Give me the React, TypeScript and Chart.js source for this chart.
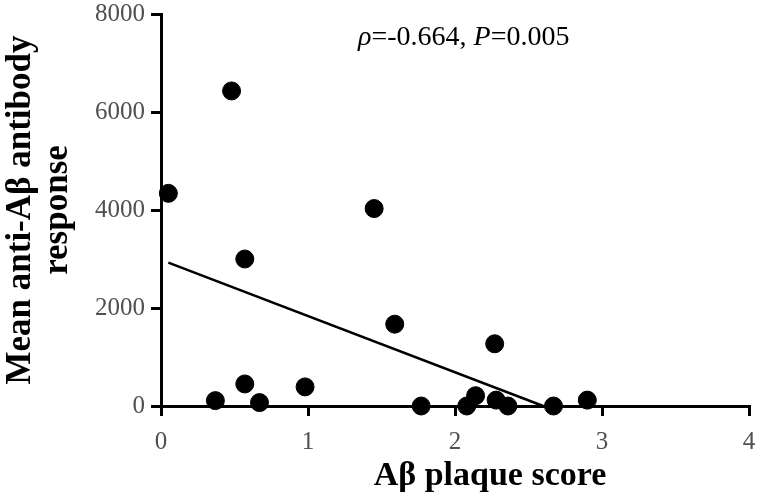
import React, { useEffect, useRef } from "react";
import { Chart, registerables } from "chart.js";

Chart.register(...registerables);

// Data
const plaqueScores = [0.05, 0.48, 1.45, 0.57, 0.57, 0.37, 0.67, 0.98, 1.59, 2.27, 1.77, 2.08, 2.14, 2.28, 2.36, 2.67, 2.9];
const antibodyResponse = [4340, 6430, 4030, 3000, 450, 110, 70, 390, 1670, 1270, 0, 0, 210, 120, 0, 0, 120];
const fitX = [0.05, 2.6];
const fitY = [2925, 0];
const xTickValues = [0, 1, 2, 3, 4];
const yTickValues = [0, 2000, 4000, 6000, 8000];
const xTitle = "Aβ plaque score";
const yTitle = ["Mean anti-Aβ antibody", "response"];
const statsSegments = [
  { text: "ρ", italic: true },
  { text: "=-0.664, ", italic: false },
  { text: "P", italic: true },
  { text: "=0.005", italic: false },
];
const statsAt = { x: 1.34, y: 7370 };

const SERIF = "'Liberation Serif', 'Times New Roman', serif";

const textPlugin = {
  id: "textPlugin",
  afterDraw(chart: any) {
    const ctx = chart.ctx;
    const xs = chart.scales.x;
    const ys = chart.scales.y;
    ctx.save();
    // stats annotation
    let px = xs.getPixelForValue(statsAt.x);
    const py = ys.getPixelForValue(statsAt.y);
    ctx.fillStyle = "#000";
    ctx.textBaseline = "alphabetic";
    ctx.textAlign = "left";
    for (const seg of statsSegments) {
      ctx.font = `${seg.italic ? "italic " : ""}28px ${SERIF}`;
      ctx.fillText(seg.text, px, py);
      px += ctx.measureText(seg.text).width;
    }
    // x axis title
    ctx.font = `bold 34px ${SERIF}`;
    ctx.textAlign = "center";
    ctx.fillText(xTitle, (xs.left + xs.right) / 2 + 35, 485);
    ctx.restore();
  },
};

export default function App() {
  const ref = useRef<HTMLCanvasElement | null>(null);
  useEffect(() => {
    document.body.style.margin = "0";
    const canvas = ref.current!;
    const chart = new Chart(canvas, {
      type: "scatter",
      data: {
        datasets: [
          {
            label: "Samples",
            data: plaqueScores.map((x, i) => ({ x, y: antibodyResponse[i] })),
            backgroundColor: "#000",
            borderColor: "#000",
            pointRadius: 9,
            pointHoverRadius: 9,
            clip: false as any,
          },
          {
            type: "line" as any,
            label: "Fit",
            data: fitX.map((x, i) => ({ x, y: fitY[i] })),
            borderColor: "#000",
            borderWidth: 2.5,
            pointRadius: 0,
            showLine: true,
            fill: false,
            clip: false as any,
          } as any,
        ],
      },
      options: {
        responsive: false,
        animation: false,
        events: [],
        layout: { padding: { left: 0, top: 14, right: 11, bottom: 0 } },
        plugins: { legend: { display: false }, tooltip: { enabled: false } },
        scales: {
          x: {
            type: "linear",
            min: 0,
            max: 4,
            afterBuildTicks: (s: any) => {
              s.ticks = xTickValues.map((v) => ({ value: v }));
            },
            afterFit: (s: any) => {
              s.height = 90;
              s.paddingLeft = 0;
              s.paddingRight = 0;
            },
            ticks: {
              color: "#505050",
              font: { family: SERIF, size: 25 },
              padding: 11,
              callback: (v: any) => String(v),
            },
            grid: {
              display: true,
              drawOnChartArea: false,
              drawTicks: true,
              tickLength: 10,
              color: "#000",
              lineWidth: 3,
            },
            border: { display: true, color: "#000", width: 3 },
          },
          y: {
            type: "linear",
            min: 0,
            max: 8000,
            afterBuildTicks: (s: any) => {
              s.ticks = yTickValues.map((v) => ({ value: v }));
            },
            afterFit: (s: any) => {
              s.width = 161;
              s.paddingTop = 0;
              s.paddingBottom = 0;
            },
            ticks: {
              color: "#505050",
              font: { family: SERIF, size: 25 },
              padding: 6,
              callback: (v: any) => String(v),
            },
            grid: {
              display: true,
              drawOnChartArea: false,
              drawTicks: true,
              tickLength: 10,
              color: "#000",
              lineWidth: 3,
            },
            border: { display: true, color: "#000", width: 3 },
            title: {
              display: true,
              text: yTitle,
              color: "#000",
              font: { family: SERIF, size: 35, weight: "bold", lineHeight: 1.04 },
              padding: { top: 3, bottom: 0 },
            },
          },
        },
      },
      plugins: [textPlugin],
    });
    return () => chart.destroy();
  }, []);
  return (
    <div style={{ width: 760, height: 496 }}>
      <canvas ref={ref} width={760} height={496} style={{ display: "block" }} />
    </div>
  );
}
